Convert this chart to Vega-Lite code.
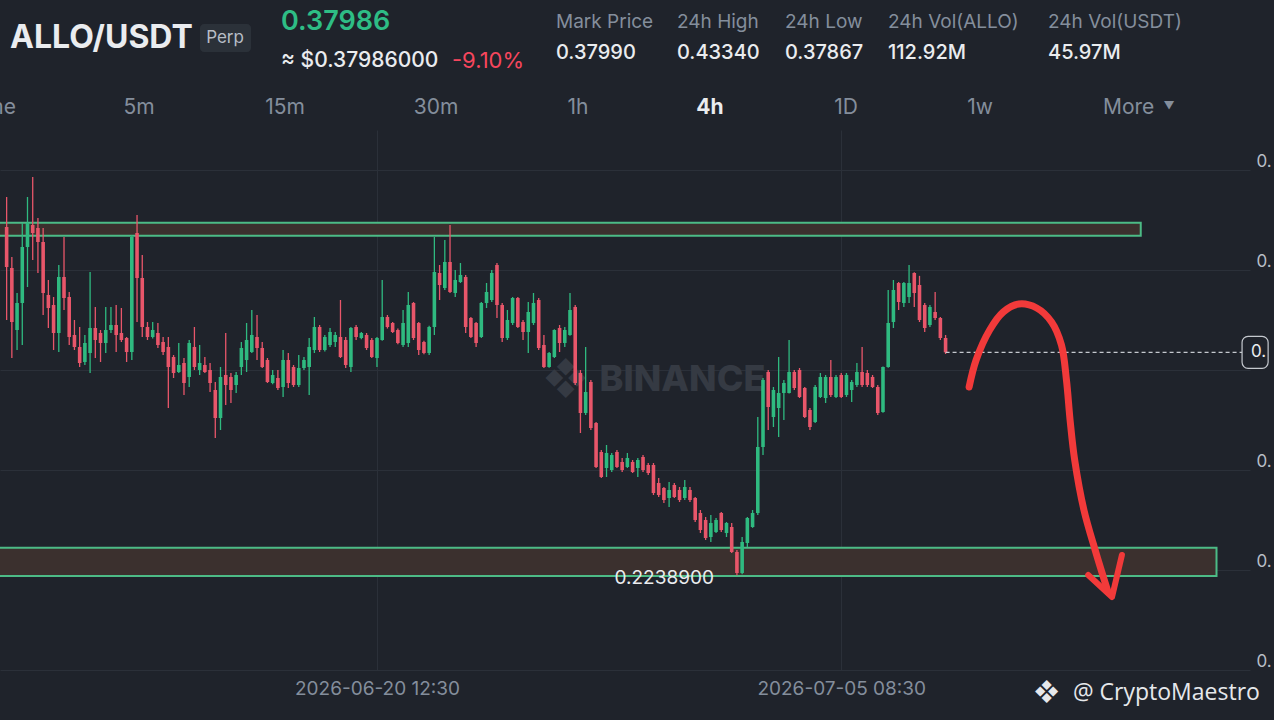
{
"$schema": "https://vega.github.io/schema/vega-lite/v6.json",
"background": "#1f232b",
"padding": {"left": 0, "top": 0, "right": 0, "bottom": 15},
"spacing": 0,
"config": {"view": {"stroke": null}, "font": "Inter", "axis": {"domain": false, "ticks": false, "title": null}},
"datasets": {
"header": [
{"id":"pair","text":"ALLO/USDT"},{"id":"perp","text":"Perp"},{"id":"last","text":"0.37986"},{"id":"usd","text":"≈ $0.37986000"},{"id":"chg","text":"-9.10%"},
{"id":"s1","text":"Mark Price"},{"id":"v1","text":"0.37990"},
{"id":"s2","text":"24h High"},{"id":"v2","text":"0.43340"},
{"id":"s3","text":"24h Low"},{"id":"v3","text":"0.37867"},
{"id":"s4","text":"24h Vol(ALLO)"},{"id":"v4","text":"112.92M"},
{"id":"s5","text":"24h Vol(USDT)"},{"id":"v5","text":"45.97M"},
{"id":"tTime","text":"Time"},{"id":"t5m","text":"5m"},{"id":"t15m","text":"15m"},{"id":"t30m","text":"30m"},{"id":"t1h","text":"1h"},{"id":"t4h","text":"4h"},{"id":"t1D","text":"1D"},{"id":"t1w","text":"1w"},{"id":"tMore","text":"More"},{"id":"tArrow","text":"▼"}
],
"candles": [
{"t":"2026-06-08T16:30Z","o":0.4676,"h":0.4886,"l":0.4025,"c":0.4396},
{"t":"2026-06-08T20:30Z","o":0.4389,"h":0.4466,"l":0.3759,"c":0.4011},
{"t":"2026-06-09T00:30Z","o":0.3955,"h":0.4214,"l":0.3815,"c":0.4144},
{"t":"2026-06-09T04:30Z","o":0.4144,"h":0.4704,"l":0.3850,"c":0.4536},
{"t":"2026-06-09T08:30Z","o":0.4536,"h":0.4886,"l":0.4256,"c":0.4704},
{"t":"2026-06-09T12:30Z","o":0.4690,"h":0.5026,"l":0.4445,"c":0.4634},
{"t":"2026-06-09T16:30Z","o":0.4669,"h":0.4739,"l":0.4354,"c":0.4571},
{"t":"2026-06-09T20:30Z","o":0.4571,"h":0.4669,"l":0.4060,"c":0.4214},
{"t":"2026-06-10T00:30Z","o":0.4200,"h":0.4305,"l":0.3969,"c":0.4109},
{"t":"2026-06-10T04:30Z","o":0.4130,"h":0.4186,"l":0.3815,"c":0.3934},
{"t":"2026-06-10T08:30Z","o":0.3934,"h":0.4410,"l":0.3801,"c":0.4326},
{"t":"2026-06-10T12:30Z","o":0.4326,"h":0.4606,"l":0.4095,"c":0.4179},
{"t":"2026-06-10T16:30Z","o":0.4186,"h":0.4221,"l":0.3850,"c":0.3906},
{"t":"2026-06-10T20:30Z","o":0.3920,"h":0.4025,"l":0.3815,"c":0.3836},
{"t":"2026-06-11T00:30Z","o":0.3836,"h":0.3976,"l":0.3696,"c":0.3724},
{"t":"2026-06-11T04:30Z","o":0.3731,"h":0.3920,"l":0.3710,"c":0.3864},
{"t":"2026-06-11T08:30Z","o":0.3794,"h":0.4361,"l":0.3654,"c":0.3969},
{"t":"2026-06-11T12:30Z","o":0.3969,"h":0.4116,"l":0.3759,"c":0.3885},
{"t":"2026-06-11T16:30Z","o":0.3934,"h":0.3955,"l":0.3731,"c":0.3864},
{"t":"2026-06-11T20:30Z","o":0.3864,"h":0.4116,"l":0.3794,"c":0.3955},
{"t":"2026-06-12T00:30Z","o":0.3955,"h":0.4116,"l":0.3934,"c":0.3990},
{"t":"2026-06-12T04:30Z","o":0.3990,"h":0.4130,"l":0.3801,"c":0.3920},
{"t":"2026-06-12T08:30Z","o":0.3934,"h":0.4109,"l":0.3871,"c":0.3885},
{"t":"2026-06-12T12:30Z","o":0.3899,"h":0.3906,"l":0.3731,"c":0.3801},
{"t":"2026-06-12T16:30Z","o":0.3801,"h":0.4620,"l":0.3745,"c":0.4606},
{"t":"2026-06-12T20:30Z","o":0.4634,"h":0.4760,"l":0.4011,"c":0.4319},
{"t":"2026-06-13T00:30Z","o":0.4319,"h":0.4480,"l":0.3906,"c":0.3976},
{"t":"2026-06-13T04:30Z","o":0.3976,"h":0.4011,"l":0.3885,"c":0.3906},
{"t":"2026-06-13T08:30Z","o":0.3906,"h":0.4011,"l":0.3895,"c":0.3955},
{"t":"2026-06-13T12:30Z","o":0.3934,"h":0.4004,"l":0.3829,"c":0.3850},
{"t":"2026-06-13T16:30Z","o":0.3871,"h":0.3906,"l":0.3780,"c":0.3801},
{"t":"2026-06-13T20:30Z","o":0.3836,"h":0.3906,"l":0.3409,"c":0.3696},
{"t":"2026-06-14T00:30Z","o":0.3766,"h":0.3780,"l":0.3619,"c":0.3654},
{"t":"2026-06-14T04:30Z","o":0.3661,"h":0.3864,"l":0.3654,"c":0.3710},
{"t":"2026-06-14T08:30Z","o":0.3724,"h":0.3759,"l":0.3500,"c":0.3584},
{"t":"2026-06-14T12:30Z","o":0.3626,"h":0.3885,"l":0.3556,"c":0.3864},
{"t":"2026-06-14T16:30Z","o":0.3836,"h":0.3976,"l":0.3675,"c":0.3696},
{"t":"2026-06-14T20:30Z","o":0.3675,"h":0.3850,"l":0.3640,"c":0.3724},
{"t":"2026-06-15T00:30Z","o":0.3710,"h":0.3766,"l":0.3654,"c":0.3661},
{"t":"2026-06-15T04:30Z","o":0.3675,"h":0.3724,"l":0.3521,"c":0.3584},
{"t":"2026-06-15T08:30Z","o":0.3535,"h":0.3591,"l":0.3199,"c":0.3339},
{"t":"2026-06-15T12:30Z","o":0.3339,"h":0.3696,"l":0.3255,"c":0.3626},
{"t":"2026-06-15T16:30Z","o":0.3640,"h":0.3934,"l":0.3430,"c":0.3570},
{"t":"2026-06-15T20:30Z","o":0.3626,"h":0.3654,"l":0.3444,"c":0.3535},
{"t":"2026-06-16T00:30Z","o":0.3570,"h":0.3661,"l":0.3514,"c":0.3640},
{"t":"2026-06-16T04:30Z","o":0.3696,"h":0.3871,"l":0.3640,"c":0.3829},
{"t":"2026-06-16T08:30Z","o":0.3745,"h":0.4004,"l":0.3661,"c":0.3885},
{"t":"2026-06-16T12:30Z","o":0.3801,"h":0.4095,"l":0.3794,"c":0.3920},
{"t":"2026-06-16T16:30Z","o":0.3906,"h":0.4060,"l":0.3745,"c":0.3829},
{"t":"2026-06-16T20:30Z","o":0.3829,"h":0.3871,"l":0.3689,"c":0.3696},
{"t":"2026-06-17T00:30Z","o":0.3745,"h":0.3759,"l":0.3584,"c":0.3591},
{"t":"2026-06-17T04:30Z","o":0.3584,"h":0.3675,"l":0.3575,"c":0.3640},
{"t":"2026-06-17T08:30Z","o":0.3619,"h":0.3675,"l":0.3535,"c":0.3549},
{"t":"2026-06-17T12:30Z","o":0.3556,"h":0.3815,"l":0.3486,"c":0.3745},
{"t":"2026-06-17T16:30Z","o":0.3745,"h":0.3794,"l":0.3549,"c":0.3584},
{"t":"2026-06-17T20:30Z","o":0.3696,"h":0.3710,"l":0.3556,"c":0.3570},
{"t":"2026-06-18T00:30Z","o":0.3570,"h":0.3780,"l":0.3556,"c":0.3689},
{"t":"2026-06-18T04:30Z","o":0.3689,"h":0.3766,"l":0.3675,"c":0.3745},
{"t":"2026-06-18T08:30Z","o":0.3696,"h":0.3899,"l":0.3500,"c":0.3836},
{"t":"2026-06-18T12:30Z","o":0.3815,"h":0.4046,"l":0.3794,"c":0.3976},
{"t":"2026-06-18T16:30Z","o":0.3976,"h":0.3990,"l":0.3801,"c":0.3815},
{"t":"2026-06-18T20:30Z","o":0.3815,"h":0.3920,"l":0.3805,"c":0.3906},
{"t":"2026-06-19T00:30Z","o":0.3850,"h":0.3969,"l":0.3836,"c":0.3941},
{"t":"2026-06-19T04:30Z","o":0.3871,"h":0.3941,"l":0.3836,"c":0.3920},
{"t":"2026-06-19T08:30Z","o":0.3906,"h":0.4165,"l":0.3759,"c":0.3766},
{"t":"2026-06-19T12:30Z","o":0.3885,"h":0.3906,"l":0.3689,"c":0.3710},
{"t":"2026-06-19T16:30Z","o":0.3696,"h":0.3976,"l":0.3661,"c":0.3969},
{"t":"2026-06-19T20:30Z","o":0.3976,"h":0.3990,"l":0.3885,"c":0.3906},
{"t":"2026-06-20T00:30Z","o":0.3899,"h":0.3941,"l":0.3890,"c":0.3934},
{"t":"2026-06-20T04:30Z","o":0.3920,"h":0.3934,"l":0.3815,"c":0.3829},
{"t":"2026-06-20T08:30Z","o":0.3885,"h":0.3899,"l":0.3759,"c":0.3766},
{"t":"2026-06-20T12:30Z","o":0.3759,"h":0.3906,"l":0.3696,"c":0.3899},
{"t":"2026-06-20T16:30Z","o":0.3885,"h":0.4305,"l":0.3880,"c":0.4046},
{"t":"2026-06-20T20:30Z","o":0.4046,"h":0.4060,"l":0.3965,"c":0.3976},
{"t":"2026-06-21T00:30Z","o":0.4004,"h":0.4011,"l":0.3934,"c":0.3941},
{"t":"2026-06-21T04:30Z","o":0.3955,"h":0.3965,"l":0.3855,"c":0.3864},
{"t":"2026-06-21T08:30Z","o":0.3850,"h":0.4095,"l":0.3836,"c":0.4004},
{"t":"2026-06-21T12:30Z","o":0.3864,"h":0.4221,"l":0.3836,"c":0.4130},
{"t":"2026-06-21T16:30Z","o":0.4144,"h":0.4151,"l":0.3885,"c":0.3899},
{"t":"2026-06-21T20:30Z","o":0.4004,"h":0.4011,"l":0.3780,"c":0.3815},
{"t":"2026-06-22T00:30Z","o":0.3871,"h":0.3880,"l":0.3785,"c":0.3794},
{"t":"2026-06-22T04:30Z","o":0.3794,"h":0.3985,"l":0.3780,"c":0.3976},
{"t":"2026-06-22T08:30Z","o":0.3976,"h":0.4606,"l":0.3920,"c":0.4361},
{"t":"2026-06-22T12:30Z","o":0.4354,"h":0.4410,"l":0.4165,"c":0.4270},
{"t":"2026-06-22T16:30Z","o":0.4249,"h":0.4585,"l":0.4235,"c":0.4431},
{"t":"2026-06-22T20:30Z","o":0.4431,"h":0.4690,"l":0.4214,"c":0.4221},
{"t":"2026-06-23T00:30Z","o":0.4214,"h":0.4375,"l":0.4186,"c":0.4305},
{"t":"2026-06-23T04:30Z","o":0.4291,"h":0.4424,"l":0.4284,"c":0.4340},
{"t":"2026-06-23T08:30Z","o":0.4326,"h":0.4340,"l":0.3934,"c":0.3976},
{"t":"2026-06-23T12:30Z","o":0.4039,"h":0.4046,"l":0.3899,"c":0.3906},
{"t":"2026-06-23T16:30Z","o":0.4004,"h":0.4011,"l":0.3836,"c":0.3864},
{"t":"2026-06-23T20:30Z","o":0.3906,"h":0.4151,"l":0.3899,"c":0.4144},
{"t":"2026-06-24T00:30Z","o":0.4144,"h":0.4284,"l":0.4109,"c":0.4221},
{"t":"2026-06-24T04:30Z","o":0.4165,"h":0.4375,"l":0.4151,"c":0.4354},
{"t":"2026-06-24T08:30Z","o":0.4410,"h":0.4424,"l":0.4039,"c":0.4130},
{"t":"2026-06-24T12:30Z","o":0.4130,"h":0.4144,"l":0.3871,"c":0.3899},
{"t":"2026-06-24T16:30Z","o":0.3899,"h":0.4095,"l":0.3885,"c":0.4025},
{"t":"2026-06-24T20:30Z","o":0.4004,"h":0.4186,"l":0.3990,"c":0.4179},
{"t":"2026-06-25T00:30Z","o":0.4179,"h":0.4186,"l":0.3969,"c":0.3976},
{"t":"2026-06-25T04:30Z","o":0.4011,"h":0.4025,"l":0.3885,"c":0.3941},
{"t":"2026-06-25T08:30Z","o":0.3941,"h":0.4151,"l":0.3794,"c":0.4081},
{"t":"2026-06-25T12:30Z","o":0.4004,"h":0.4214,"l":0.3990,"c":0.4144},
{"t":"2026-06-25T16:30Z","o":0.4165,"h":0.4179,"l":0.3815,"c":0.3829},
{"t":"2026-06-25T20:30Z","o":0.3850,"h":0.3920,"l":0.3689,"c":0.3696},
{"t":"2026-06-26T00:30Z","o":0.3696,"h":0.3801,"l":0.3690,"c":0.3794},
{"t":"2026-06-26T04:30Z","o":0.3766,"h":0.3960,"l":0.3759,"c":0.3955},
{"t":"2026-06-26T08:30Z","o":0.3969,"h":0.3990,"l":0.3801,"c":0.3864},
{"t":"2026-06-26T12:30Z","o":0.3864,"h":0.3976,"l":0.3836,"c":0.3955},
{"t":"2026-06-26T16:30Z","o":0.3920,"h":0.4214,"l":0.3915,"c":0.4095},
{"t":"2026-06-26T20:30Z","o":0.4116,"h":0.4130,"l":0.3570,"c":0.3584},
{"t":"2026-06-27T00:30Z","o":0.3654,"h":0.3675,"l":0.3234,"c":0.3374},
{"t":"2026-06-27T04:30Z","o":0.3374,"h":0.3836,"l":0.3360,"c":0.3521},
{"t":"2026-06-27T08:30Z","o":0.3591,"h":0.3605,"l":0.3255,"c":0.3269},
{"t":"2026-06-27T12:30Z","o":0.3304,"h":0.3311,"l":0.2989,"c":0.2996},
{"t":"2026-06-27T16:30Z","o":0.3101,"h":0.3115,"l":0.2919,"c":0.2926},
{"t":"2026-06-27T20:30Z","o":0.2989,"h":0.3150,"l":0.2926,"c":0.3094},
{"t":"2026-06-28T00:30Z","o":0.2975,"h":0.3094,"l":0.2961,"c":0.3080},
{"t":"2026-06-28T04:30Z","o":0.3101,"h":0.3115,"l":0.2989,"c":0.2996},
{"t":"2026-06-28T08:30Z","o":0.3031,"h":0.3059,"l":0.2961,"c":0.2975},
{"t":"2026-06-28T12:30Z","o":0.2996,"h":0.3094,"l":0.2989,"c":0.3059},
{"t":"2026-06-28T16:30Z","o":0.3031,"h":0.3045,"l":0.2954,"c":0.2961},
{"t":"2026-06-28T20:30Z","o":0.2989,"h":0.3059,"l":0.2926,"c":0.3045},
{"t":"2026-06-29T00:30Z","o":0.3066,"h":0.3080,"l":0.2961,"c":0.2975},
{"t":"2026-06-29T04:30Z","o":0.3010,"h":0.3024,"l":0.2940,"c":0.2954},
{"t":"2026-06-29T08:30Z","o":0.3010,"h":0.3024,"l":0.2800,"c":0.2814},
{"t":"2026-06-29T12:30Z","o":0.2884,"h":0.2919,"l":0.2786,"c":0.2800},
{"t":"2026-06-29T16:30Z","o":0.2849,"h":0.2856,"l":0.2744,"c":0.2765},
{"t":"2026-06-29T20:30Z","o":0.2779,"h":0.2891,"l":0.2716,"c":0.2835},
{"t":"2026-06-30T00:30Z","o":0.2870,"h":0.2884,"l":0.2779,"c":0.2786},
{"t":"2026-06-30T04:30Z","o":0.2835,"h":0.2856,"l":0.2751,"c":0.2765},
{"t":"2026-06-30T08:30Z","o":0.2779,"h":0.2905,"l":0.2765,"c":0.2856},
{"t":"2026-06-30T12:30Z","o":0.2835,"h":0.2856,"l":0.2751,"c":0.2765},
{"t":"2026-06-30T16:30Z","o":0.2779,"h":0.2786,"l":0.2611,"c":0.2625},
{"t":"2026-06-30T20:30Z","o":0.2674,"h":0.2695,"l":0.2534,"c":0.2555},
{"t":"2026-07-01T00:30Z","o":0.2625,"h":0.2646,"l":0.2485,"c":0.2499},
{"t":"2026-07-01T04:30Z","o":0.2506,"h":0.2660,"l":0.2471,"c":0.2604},
{"t":"2026-07-01T08:30Z","o":0.2541,"h":0.2639,"l":0.2534,"c":0.2625},
{"t":"2026-07-01T12:30Z","o":0.2674,"h":0.2681,"l":0.2541,"c":0.2555},
{"t":"2026-07-01T16:30Z","o":0.2534,"h":0.2611,"l":0.2506,"c":0.2604},
{"t":"2026-07-01T20:30Z","o":0.2576,"h":0.2604,"l":0.2394,"c":0.2401},
{"t":"2026-07-02T00:30Z","o":0.2401,"h":0.2415,"l":0.22389,"c":0.2254},
{"t":"2026-07-02T04:30Z","o":0.2254,"h":0.2506,"l":0.2245,"c":0.2471},
{"t":"2026-07-02T08:30Z","o":0.2464,"h":0.2646,"l":0.2436,"c":0.2639},
{"t":"2026-07-02T12:30Z","o":0.2576,"h":0.2695,"l":0.2570,"c":0.2674},
{"t":"2026-07-02T16:30Z","o":0.2674,"h":0.3346,"l":0.2660,"c":0.3136},
{"t":"2026-07-02T20:30Z","o":0.3136,"h":0.3619,"l":0.3080,"c":0.3605},
{"t":"2026-07-03T00:30Z","o":0.3661,"h":0.3675,"l":0.3255,"c":0.3416},
{"t":"2026-07-03T04:30Z","o":0.3346,"h":0.3556,"l":0.3276,"c":0.3535},
{"t":"2026-07-03T08:30Z","o":0.3409,"h":0.3766,"l":0.3206,"c":0.3514},
{"t":"2026-07-03T12:30Z","o":0.3514,"h":0.3605,"l":0.3325,"c":0.3584},
{"t":"2026-07-03T16:30Z","o":0.3514,"h":0.3885,"l":0.3510,"c":0.3661},
{"t":"2026-07-03T20:30Z","o":0.3661,"h":0.3675,"l":0.3535,"c":0.3549},
{"t":"2026-07-04T00:30Z","o":0.3675,"h":0.3689,"l":0.3479,"c":0.3486},
{"t":"2026-07-04T04:30Z","o":0.3549,"h":0.3556,"l":0.3339,"c":0.3346},
{"t":"2026-07-04T08:30Z","o":0.3395,"h":0.3409,"l":0.3255,"c":0.3276},
{"t":"2026-07-04T12:30Z","o":0.3311,"h":0.3570,"l":0.3304,"c":0.3556},
{"t":"2026-07-04T16:30Z","o":0.3486,"h":0.3654,"l":0.3479,"c":0.3626},
{"t":"2026-07-04T20:30Z","o":0.3479,"h":0.3640,"l":0.3444,"c":0.3626},
{"t":"2026-07-05T00:30Z","o":0.3626,"h":0.3745,"l":0.3486,"c":0.3500},
{"t":"2026-07-05T04:30Z","o":0.3486,"h":0.3640,"l":0.3479,"c":0.3626},
{"t":"2026-07-05T08:30Z","o":0.3640,"h":0.3654,"l":0.3479,"c":0.3486},
{"t":"2026-07-05T12:30Z","o":0.3500,"h":0.3654,"l":0.3486,"c":0.3640},
{"t":"2026-07-05T16:30Z","o":0.3535,"h":0.3605,"l":0.3451,"c":0.3591},
{"t":"2026-07-05T20:30Z","o":0.3570,"h":0.3724,"l":0.3556,"c":0.3661},
{"t":"2026-07-06T00:30Z","o":0.3661,"h":0.3836,"l":0.3556,"c":0.3570},
{"t":"2026-07-06T04:30Z","o":0.3654,"h":0.3675,"l":0.3556,"c":0.3570},
{"t":"2026-07-06T08:30Z","o":0.3626,"h":0.3640,"l":0.3549,"c":0.3556},
{"t":"2026-07-06T12:30Z","o":0.3556,"h":0.3570,"l":0.3360,"c":0.3374},
{"t":"2026-07-06T16:30Z","o":0.3381,"h":0.3700,"l":0.3375,"c":0.3696},
{"t":"2026-07-06T20:30Z","o":0.3696,"h":0.4235,"l":0.3690,"c":0.4004},
{"t":"2026-07-07T00:30Z","o":0.4011,"h":0.4305,"l":0.3969,"c":0.4235},
{"t":"2026-07-07T04:30Z","o":0.4284,"h":0.4291,"l":0.4095,"c":0.4151},
{"t":"2026-07-07T08:30Z","o":0.4144,"h":0.4291,"l":0.4116,"c":0.4284},
{"t":"2026-07-07T12:30Z","o":0.4186,"h":0.4410,"l":0.4144,"c":0.4284},
{"t":"2026-07-07T16:30Z","o":0.4354,"h":0.4360,"l":0.4116,"c":0.4214},
{"t":"2026-07-07T20:30Z","o":0.4270,"h":0.4334,"l":0.4011,"c":0.4025},
{"t":"2026-07-08T00:30Z","o":0.4130,"h":0.4144,"l":0.3941,"c":0.3969},
{"t":"2026-07-08T04:30Z","o":0.3990,"h":0.4130,"l":0.3976,"c":0.4116},
{"t":"2026-07-08T08:30Z","o":0.4081,"h":0.4221,"l":0.4025,"c":0.4039},
{"t":"2026-07-08T12:30Z","o":0.4039,"h":0.4046,"l":0.3885,"c":0.3899},
{"t":"2026-07-08T16:30Z","o":0.3899,"h":0.3920,"l":0.3787,"c":0.37986}
],
"zones": [
{"zone":"resistance","start":"2026-06-07T00:00Z","end":"2026-07-14T22:09Z","low":0.4615,"high":0.4706},
{"zone":"support","start":"2026-06-07T00:00Z","end":"2026-07-17T08:15Z","low":0.2233,"high":0.2431}
],
"last": [{"from":"2026-07-08T16:30Z","to":"2026-07-18T03:51Z","price":0.37986,"tag":"0."}],
"lowMark": [{"t":"2026-07-02T00:30Z","price":0.22389,"text":"0.2238900"}],
"arrow": [
{"seg":"curve","n":1,"t":"2026-07-09T10:33Z","p":0.3556},
{"seg":"curve","n":2,"t":"2026-07-09T15:55Z","p":0.3745},
{"seg":"curve","n":3,"t":"2026-07-10T02:19Z","p":0.3955},
{"seg":"curve","n":4,"t":"2026-07-10T12:44Z","p":0.4081},
{"seg":"curve","n":5,"t":"2026-07-11T00:40Z","p":0.4137},
{"seg":"curve","n":6,"t":"2026-07-11T14:22Z","p":0.4109},
{"seg":"curve","n":7,"t":"2026-07-12T01:46Z","p":0.4011},
{"seg":"curve","n":8,"t":"2026-07-12T09:22Z","p":0.3850},
{"seg":"curve","n":9,"t":"2026-07-12T13:11Z","p":0.3605},
{"seg":"curve","n":10,"t":"2026-07-12T15:58Z","p":0.3325},
{"seg":"curve","n":11,"t":"2026-07-12T19:30Z","p":0.3045},
{"seg":"curve","n":12,"t":"2026-07-13T02:35Z","p":0.2695},
{"seg":"curve","n":13,"t":"2026-07-13T11:11Z","p":0.2415},
{"seg":"curve","n":14,"t":"2026-07-13T21:05Z","p":0.2121},
{"seg":"head","n":1,"t":"2026-07-13T05:52Z","p":0.2240},
{"seg":"head","n":2,"t":"2026-07-14T00:08Z","p":0.2086},
{"seg":"head","n":3,"t":"2026-07-14T07:44Z","p":0.2380}
],
"marks": [{"brand":"BINANCE","logo":"❖","credit":"@ CryptoMaestro"}]
},
"vconcat": [
{
"width": 1274, "height": 130,
"data": {"name": "header"},
"layer": [
{"transform":[{"filter":"datum.id==='perp'"}],"mark":{"type":"rect","fill":"#2b3139","cornerRadius":4},"encoding":{"x":{"datum":200,"type":"quantitative","scale":{"domain":[0,1274],"nice":false,"zero":false},"axis":null},"x2":{"datum":251},"y":{"datum":24,"type":"quantitative","scale":{"domain":[130,0],"nice":false,"zero":false},"axis":null},"y2":{"datum":52}}},
{"transform":[{"filter":"datum.id==='pair'"}],"mark":{"type":"text","align":"left","baseline":"middle","fontSize":32,"fontWeight":700,"color":"#eaecef"},"encoding":{"x":{"datum":10,"type":"quantitative","axis":null},"y":{"datum":38,"type":"quantitative","axis":null},"text":{"field":"text"}}},
{"transform":[{"filter":"datum.id==='perp'"}],"mark":{"type":"text","align":"center","baseline":"middle","fontSize":17,"color":"#b7bdc6"},"encoding":{"x":{"datum":225,"type":"quantitative","axis":null},"y":{"datum":38,"type":"quantitative","axis":null},"text":{"field":"text"}}},
{"transform":[{"filter":"datum.id==='last'"}],"mark":{"type":"text","align":"left","baseline":"middle","fontSize":27,"fontWeight":600,"color":"#2ebd85"},"encoding":{"x":{"datum":281,"type":"quantitative","axis":null},"y":{"datum":22,"type":"quantitative","axis":null},"text":{"field":"text"}}},
{"transform":[{"filter":"datum.id==='usd'"}],"mark":{"type":"text","align":"left","baseline":"middle","fontSize":21,"fontWeight":500,"color":"#eaecef"},"encoding":{"x":{"datum":281,"type":"quantitative","axis":null},"y":{"datum":61,"type":"quantitative","axis":null},"text":{"field":"text"}}},
{"transform":[{"filter":"datum.id==='chg'"}],"mark":{"type":"text","align":"left","baseline":"middle","fontSize":22,"color":"#f6465d"},"encoding":{"x":{"datum":452,"type":"quantitative","axis":null},"y":{"datum":61,"type":"quantitative","axis":null},"text":{"field":"text"}}},
{"transform":[{"filter":"datum.id==='s1'"}],"mark":{"type":"text","align":"left","baseline":"middle","fontSize":19,"color":"#848e9c"},"encoding":{"x":{"datum":556,"type":"quantitative","axis":null},"y":{"datum":22,"type":"quantitative","axis":null},"text":{"field":"text"}}},
{"transform":[{"filter":"datum.id==='s2'"}],"mark":{"type":"text","align":"left","baseline":"middle","fontSize":19,"color":"#848e9c"},"encoding":{"x":{"datum":677,"type":"quantitative","axis":null},"y":{"datum":22,"type":"quantitative","axis":null},"text":{"field":"text"}}},
{"transform":[{"filter":"datum.id==='s3'"}],"mark":{"type":"text","align":"left","baseline":"middle","fontSize":19,"color":"#848e9c"},"encoding":{"x":{"datum":785,"type":"quantitative","axis":null},"y":{"datum":22,"type":"quantitative","axis":null},"text":{"field":"text"}}},
{"transform":[{"filter":"datum.id==='s4'"}],"mark":{"type":"text","align":"left","baseline":"middle","fontSize":19,"color":"#848e9c"},"encoding":{"x":{"datum":888,"type":"quantitative","axis":null},"y":{"datum":22,"type":"quantitative","axis":null},"text":{"field":"text"}}},
{"transform":[{"filter":"datum.id==='s5'"}],"mark":{"type":"text","align":"left","baseline":"middle","fontSize":19,"color":"#848e9c"},"encoding":{"x":{"datum":1048,"type":"quantitative","axis":null},"y":{"datum":22,"type":"quantitative","axis":null},"text":{"field":"text"}}},
{"transform":[{"filter":"datum.id==='v1'"}],"mark":{"type":"text","align":"left","baseline":"middle","fontSize":20,"fontWeight":500,"color":"#eaecef"},"encoding":{"x":{"datum":556,"type":"quantitative","axis":null},"y":{"datum":53,"type":"quantitative","axis":null},"text":{"field":"text"}}},
{"transform":[{"filter":"datum.id==='v2'"}],"mark":{"type":"text","align":"left","baseline":"middle","fontSize":20,"fontWeight":500,"color":"#eaecef"},"encoding":{"x":{"datum":677,"type":"quantitative","axis":null},"y":{"datum":53,"type":"quantitative","axis":null},"text":{"field":"text"}}},
{"transform":[{"filter":"datum.id==='v3'"}],"mark":{"type":"text","align":"left","baseline":"middle","fontSize":20,"fontWeight":500,"color":"#eaecef"},"encoding":{"x":{"datum":785,"type":"quantitative","axis":null},"y":{"datum":53,"type":"quantitative","axis":null},"text":{"field":"text"}}},
{"transform":[{"filter":"datum.id==='v4'"}],"mark":{"type":"text","align":"left","baseline":"middle","fontSize":20,"fontWeight":500,"color":"#eaecef"},"encoding":{"x":{"datum":888,"type":"quantitative","axis":null},"y":{"datum":53,"type":"quantitative","axis":null},"text":{"field":"text"}}},
{"transform":[{"filter":"datum.id==='v5'"}],"mark":{"type":"text","align":"left","baseline":"middle","fontSize":20,"fontWeight":500,"color":"#eaecef"},"encoding":{"x":{"datum":1048,"type":"quantitative","axis":null},"y":{"datum":53,"type":"quantitative","axis":null},"text":{"field":"text"}}},
{"transform":[{"filter":"datum.id==='tTime'"}],"mark":{"type":"text","align":"right","baseline":"middle","fontSize":21,"color":"#848e9c","clip":true},"encoding":{"x":{"datum":16,"type":"quantitative","axis":null},"y":{"datum":108,"type":"quantitative","axis":null},"text":{"field":"text"}}},
{"transform":[{"filter":"datum.id==='t5m'"}],"mark":{"type":"text","align":"center","baseline":"middle","fontSize":21,"color":"#848e9c"},"encoding":{"x":{"datum":139,"type":"quantitative","axis":null},"y":{"datum":108,"type":"quantitative","axis":null},"text":{"field":"text"}}},
{"transform":[{"filter":"datum.id==='t15m'"}],"mark":{"type":"text","align":"center","baseline":"middle","fontSize":21,"color":"#848e9c"},"encoding":{"x":{"datum":285,"type":"quantitative","axis":null},"y":{"datum":108,"type":"quantitative","axis":null},"text":{"field":"text"}}},
{"transform":[{"filter":"datum.id==='t30m'"}],"mark":{"type":"text","align":"center","baseline":"middle","fontSize":21,"color":"#848e9c"},"encoding":{"x":{"datum":436,"type":"quantitative","axis":null},"y":{"datum":108,"type":"quantitative","axis":null},"text":{"field":"text"}}},
{"transform":[{"filter":"datum.id==='t1h'"}],"mark":{"type":"text","align":"center","baseline":"middle","fontSize":21,"color":"#848e9c"},"encoding":{"x":{"datum":578,"type":"quantitative","axis":null},"y":{"datum":108,"type":"quantitative","axis":null},"text":{"field":"text"}}},
{"transform":[{"filter":"datum.id==='t4h'"}],"mark":{"type":"text","align":"center","baseline":"middle","fontSize":21,"fontWeight":700,"color":"#eaecef"},"encoding":{"x":{"datum":710,"type":"quantitative","axis":null},"y":{"datum":108,"type":"quantitative","axis":null},"text":{"field":"text"}}},
{"transform":[{"filter":"datum.id==='t1D'"}],"mark":{"type":"text","align":"center","baseline":"middle","fontSize":21,"color":"#848e9c"},"encoding":{"x":{"datum":846,"type":"quantitative","axis":null},"y":{"datum":108,"type":"quantitative","axis":null},"text":{"field":"text"}}},
{"transform":[{"filter":"datum.id==='t1w'"}],"mark":{"type":"text","align":"center","baseline":"middle","fontSize":21,"color":"#848e9c"},"encoding":{"x":{"datum":980,"type":"quantitative","axis":null},"y":{"datum":108,"type":"quantitative","axis":null},"text":{"field":"text"}}},
{"transform":[{"filter":"datum.id==='tMore'"}],"mark":{"type":"text","align":"left","baseline":"middle","fontSize":21,"color":"#848e9c"},"encoding":{"x":{"datum":1103,"type":"quantitative","axis":null},"y":{"datum":108,"type":"quantitative","axis":null},"text":{"field":"text"}}},
{"transform":[{"filter":"datum.id==='tArrow'"}],"mark":{"type":"text","align":"center","baseline":"middle","fontSize":11,"color":"#848e9c"},"encoding":{"x":{"datum":1169,"type":"quantitative","axis":null},"y":{"datum":106,"type":"quantitative","axis":null},"text":{"field":"text"}}}
]
},
{
"width": 1250, "height": 540,
"layer": [
{"data":{"name":"marks"},"mark":{"type":"text","align":"center","baseline":"middle","fontSize":36,"fontWeight":800,"color":"#353a43"},"encoding":{"x":{"datum":{"year":2026,"month":6,"date":30,"hours":6,"minutes":45,"utc":true},"type":"temporal"},"y":{"datum":0.3605,"type":"quantitative"},"text":{"field":"brand"}}},
{"data":{"name":"marks"},"mark":{"type":"text","align":"center","baseline":"middle","fontSize":42,"color":"#353a43"},"encoding":{"x":{"datum":{"year":2026,"month":6,"date":26,"hours":13,"minutes":3,"utc":true},"type":"temporal"},"y":{"datum":0.3605,"type":"quantitative"},"text":{"field":"logo"}}},
{"data":{"name":"zones"},"mark":{"type":"rect","fill":"#3b302e","stroke":"#4cbb86","strokeWidth":2,"clip":true},"encoding":{"x":{"field":"start","type":"temporal"},"x2":{"field":"end"},"y":{"field":"low","type":"quantitative"},"y2":{"field":"high"}}},
{"data":{"name":"candles"},"mark":{"type":"rule","strokeWidth":1.3,"clip":true},"encoding":{
"x":{"field":"t","type":"temporal","scale":{"type":"utc","domain":[{"year":2026,"month":6,"date":8,"hours":15,"minutes":15,"utc":true},{"year":2026,"month":7,"date":18,"hours":6,"minutes":6,"utc":true}]},"axis":{"values":[{"year":2026,"month":6,"date":20,"hours":12,"minutes":30,"utc":true},{"year":2026,"month":7,"date":5,"hours":8,"minutes":30,"utc":true}],"labelExpr":"utcFormat(datum.value, '%Y-%m-%d %H:%M')","grid":true,"gridColor":"#2b3039","labelColor":"#848e9c","labelFontSize":19,"labelPadding":9,"labelFlush":false}},
"y":{"field":"l","type":"quantitative","scale":{"domain":[0.1575,0.5355],"nice":false,"zero":false},"axis":{"orient":"right","values":[0.1575,0.2275,0.2975,0.3675,0.4375,0.5075],"labelExpr":"abs(datum.value-0.3675)<0.001 ? '' : '0.'","grid":true,"gridColor":"#2b3039","labelColor":"#b7bdc6","labelFontSize":17,"labelPadding":6,"labelAlign":"left","labelBaseline":"bottom","labelOverlap":false,"minExtent":24,"maxExtent":24}},
"y2":{"field":"h"},
"color":{"condition":{"test":"datum.c >= datum.o","value":"#2fba80"},"value":"#e8566a"}}},
{"data":{"name":"candles"},"mark":{"type":"bar","width":3.6,"clip":true},"encoding":{"x":{"field":"t","type":"temporal"},"y":{"field":"o","type":"quantitative"},"y2":{"field":"c"},"color":{"condition":{"test":"datum.c >= datum.o","value":"#2fba80"},"value":"#e8566a"}}},
{"data":{"name":"last"},"mark":{"type":"rule","strokeDash":[4,3],"color":"#c5c9cf","strokeWidth":1.2},"encoding":{"x":{"field":"from","type":"temporal"},"x2":{"field":"to"},"y":{"field":"price","type":"quantitative"}}},
{"data":{"name":"last"},"mark":{"type":"rect","height":32,"fill":"#1f232b","stroke":"#c5c9cf","strokeWidth":1.2,"cornerRadius":6},"encoding":{"x":{"field":"to","type":"temporal"},"x2":{"datum":{"year":2026,"month":7,"date":18,"hours":23,"minutes":50,"utc":true}},"y":{"field":"price","type":"quantitative"}}},
{"data":{"name":"last"},"mark":{"type":"text","align":"left","baseline":"middle","dx":9,"fontSize":17,"color":"#eaecef"},"encoding":{"x":{"field":"to","type":"temporal"},"y":{"field":"price","type":"quantitative"},"text":{"field":"tag"}}},
{"data":{"name":"lowMark"},"mark":{"type":"text","align":"right","baseline":"middle","dx":-23,"dy":3,"fontSize":19,"color":"#eaecef"},"encoding":{"x":{"field":"t","type":"temporal"},"y":{"field":"price","type":"quantitative"},"text":{"field":"text"}}},
{"data":{"name":"arrow"},"transform":[{"filter":"datum.seg==='curve'"}],"mark":{"type":"line","interpolate":"catmull-rom","color":"#f23a3a","strokeWidth":7,"strokeCap":"round","strokeJoin":"round","clip":false},"encoding":{"x":{"field":"t","type":"temporal"},"y":{"field":"p","type":"quantitative"},"order":{"field":"n"}}},
{"data":{"name":"arrow"},"transform":[{"filter":"datum.seg==='head'"}],"mark":{"type":"line","color":"#f23a3a","strokeWidth":6,"strokeCap":"round","strokeJoin":"round","clip":false},"encoding":{"x":{"field":"t","type":"temporal"},"y":{"field":"p","type":"quantitative"},"order":{"field":"n"}}},
{"data":{"name":"marks"},"mark":{"type":"text","align":"right","baseline":"middle","fontSize":23,"font":"Open Sans","color":"#e6e8eb"},"encoding":{"x":{"datum":{"year":2026,"month":7,"date":18,"hours":17,"minutes":31,"utc":true},"type":"temporal"},"y":{"datum":0.1414,"type":"quantitative"},"text":{"field":"credit"}}},
{"data":{"name":"marks"},"mark":{"type":"text","align":"center","baseline":"middle","fontSize":24,"color":"#e6e8eb"},"encoding":{"x":{"datum":{"year":2026,"month":7,"date":11,"hours":21,"minutes":57,"utc":true},"type":"temporal"},"y":{"datum":0.1414,"type":"quantitative"},"text":{"field":"logo"}}}
]
}
]
}
